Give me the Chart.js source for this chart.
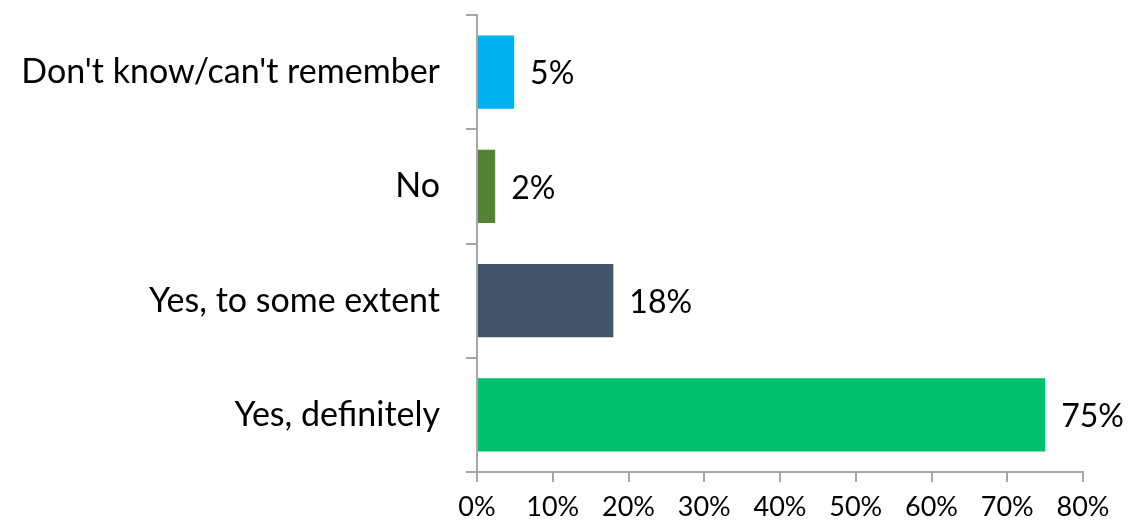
<!DOCTYPE html>
<html>
<head>
<meta charset="utf-8">
<script src="https://cdn.jsdelivr.net/npm/chart.js@4"></script>
<style>
  html, body { margin: 0; padding: 0; background: #fff; }
  #wrap { width: 1128px; height: 525px; }
</style>
</head>
<body>
<div id="wrap"><canvas id="myChart" width="1128" height="525"></canvas></div>
<script>
// chart data
const categories = ["Don't know/can't remember", "No", "Yes, to some extent", "Yes, definitely"];
const values = [4.9, 2.4, 18, 75];
const valueText = ["5%", "2%", "18%", "75%"]; // labels as printed on the chart (rounded)
const barColors = ["#00B0F0", "#548235", "#44546A", "#00BF6F"];
const xTicks = [0, 10, 20, 30, 40, 50, 60, 70, 80];

const FONT = "Lato, 'Open Sans', sans-serif";
const AXIS_GREY = "#A6A6A6";

// draws the percentage to the right of each bar
const valueLabels = {
  id: "valueLabels",
  afterDatasetsDraw(chart) {
    const ctx = chart.ctx;
    const meta = chart.getDatasetMeta(0);
    ctx.save();
    ctx.font = "32px " + FONT;
    ctx.fillStyle = "#000";
    ctx.textAlign = "left";
    ctx.textBaseline = "middle";
    meta.data.forEach((bar, i) => {
      ctx.fillText(valueText[i], bar.x + 16, bar.y + 2);
    });
    ctx.restore();
  }
};

new Chart(document.getElementById("myChart").getContext("2d"), {
  type: "bar",
  data: {
    labels: categories,
    datasets: [{
      data: values,
      backgroundColor: barColors,
      borderWidth: 0,
      categoryPercentage: 1,
      barPercentage: 0.64
    }]
  },
  options: {
    indexAxis: "y",
    responsive: false,
    animation: false,
    layout: { padding: { top: 15, right: 45, left: 0, bottom: 0 } },
    plugins: {
      legend: { display: false },
      tooltip: { enabled: false }
    },
    scales: {
      x: {
        min: 0,
        max: 80,
        afterBuildTicks(scale) {
          scale.ticks = xTicks.map(v => ({ value: v }));
        },
        afterFit(scale) {
          scale.height = 53;
          scale.paddingLeft = 0;
          scale.paddingRight = 0;
        },
        grid: {
          drawOnChartArea: false,
          drawTicks: true,
          tickLength: 10,
          color: AXIS_GREY,
          lineWidth: 2
        },
        border: { display: true, color: AXIS_GREY, width: 2 },
        ticks: {
          padding: 9,
          color: "#000",
          font: { family: FONT, size: 27 },
          callback: v => v + "%"
        }
      },
      y: {
        afterFit(scale) {
          scale.width = 477;
          scale.paddingTop = 0;
          scale.paddingBottom = 0;
        },
        grid: {
          offset: true,
          drawOnChartArea: false,
          drawTicks: true,
          tickLength: 11,
          color: AXIS_GREY,
          lineWidth: 2
        },
        border: { display: true, color: AXIS_GREY, width: 2 },
        ticks: {
          padding: 26,
          color: "#000",
          font: { family: FONT, size: 34 }
        }
      }
    }
  },
  plugins: [valueLabels]
});
</script>
</body>
</html>
